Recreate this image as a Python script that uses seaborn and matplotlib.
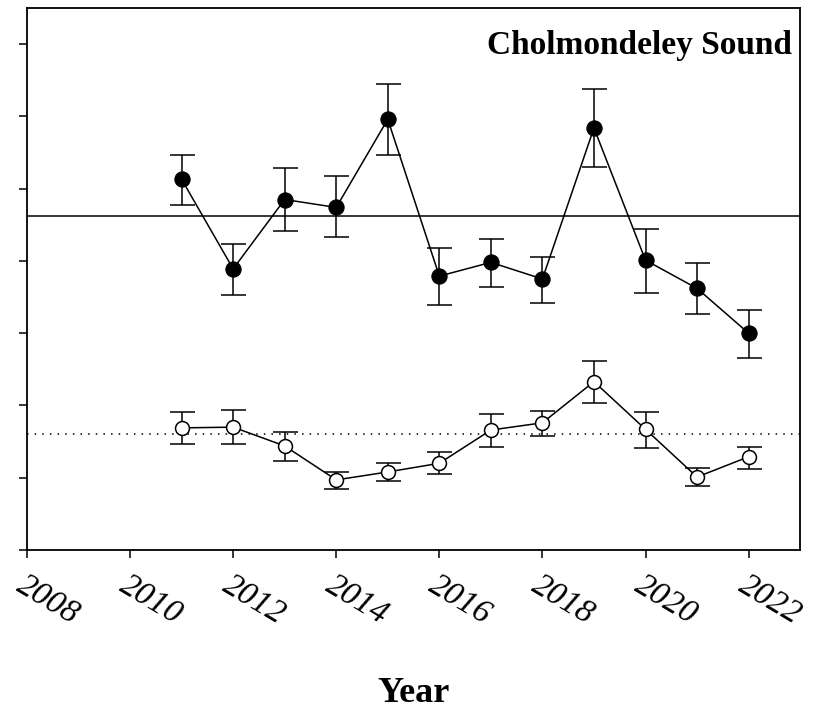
"""Annual index with standard errors, Cholmondeley Sound."""

import numpy as np
import pandas as pd
import matplotlib
matplotlib.use('Agg')
import matplotlib.pyplot as plt
import seaborn as sns

years = [2011, 2012, 2013, 2014, 2015, 2016, 2017, 2018, 2019, 2020, 2021, 2022]

# filled series
upper_mean = [5.13, 3.89, 4.85, 4.74, 5.96, 3.79, 3.98, 3.75, 5.84, 4.01, 3.62, 3.00]
upper_hi = [5.46, 4.23, 5.28, 5.17, 6.45, 4.18, 4.30, 4.05, 6.38, 4.44, 3.97, 3.32]
upper_lo = [4.77, 3.53, 4.41, 4.33, 5.46, 3.39, 3.64, 3.42, 5.30, 3.55, 3.26, 2.66]
upper_avg = 4.62

# open series
lower_mean = [1.69, 1.70, 1.44, 0.97, 1.08, 1.20, 1.66, 1.76, 2.33, 1.67, 1.01, 1.29]
lower_hi = [1.91, 1.94, 1.63, 1.08, 1.20, 1.36, 1.88, 1.92, 2.61, 1.91, 1.13, 1.43]
lower_lo = [1.47, 1.47, 1.23, 0.84, 0.95, 1.05, 1.43, 1.58, 2.03, 1.41, 0.89, 1.12]
lower_avg = 1.60

xticks = list(range(2008, 2023, 2))
yticks = list(range(0, 8))

sns.set_style('ticks')
plt.rcParams['font.family'] = ['Liberation Serif', 'DejaVu Serif']
plt.rcParams['text.color'] = 'black'
plt.rcParams['axes.labelcolor'] = 'black'
plt.rcParams['xtick.color'] = 'black'
plt.rcParams['ytick.color'] = 'black'

df = pd.DataFrame({'year': years, 'upper': upper_mean, 'lower': lower_mean})

fig = plt.figure(figsize=(8.22, 7.13), dpi=100)
ax = fig.add_axes([0.0328, 0.2286, 0.9406, 0.7602])

ax.axhline(upper_avg, color='black', lw=1.1, zorder=1)
ax.axhline(lower_avg, color='black', lw=1.1, ls=(0, (1, 4)), zorder=1)

up = np.array(upper_mean)
lo = np.array(lower_mean)
ax.errorbar(years, up, yerr=[up - np.array(upper_lo), np.array(upper_hi) - up],
            fmt='none', ecolor='black', elinewidth=1.1, capsize=9, capthick=1.1, zorder=2)
ax.errorbar(years, lo, yerr=[lo - np.array(lower_lo), np.array(lower_hi) - lo],
            fmt='none', ecolor='black', elinewidth=1.1, capsize=9, capthick=1.1, zorder=2)

sns.lineplot(data=df, x='year', y='upper', ax=ax, color='black', lw=1.1,
             marker='o', markersize=11, markerfacecolor='black',
             markeredgecolor='black', zorder=3)
sns.lineplot(data=df, x='year', y='lower', ax=ax, color='black', lw=1.1,
             marker='o', markersize=10, markerfacecolor='white',
             markeredgecolor='black', markeredgewidth=1.1, zorder=3)

ax.set_xlim(2008, 2023)
ax.set_ylim(0, 7.5)
ax.set_xticks(xticks)
ax.set_xticklabels([str(y) for y in xticks], rotation=-31, ha='left',
                   rotation_mode='anchor', fontsize=24, fontstyle='italic')
ax.set_yticks(yticks)
ax.set_yticklabels([])
ax.tick_params(direction='out', length=6, width=1.1, color='black')
ax.tick_params(axis='x', pad=8)
for s in ax.spines.values():
    s.set_linewidth(1.3)
    s.set_color('black')

ax.set_ylabel('')
ax.set_xlabel('Year', fontsize=26, fontweight='bold', labelpad=34)
ax.text(0.99, 0.93, 'Cholmondeley Sound', transform=ax.transAxes, ha='right',
        va='center', fontsize=24, fontweight='bold')

fig.savefig('out.png', dpi=100)
plt.close(fig)
